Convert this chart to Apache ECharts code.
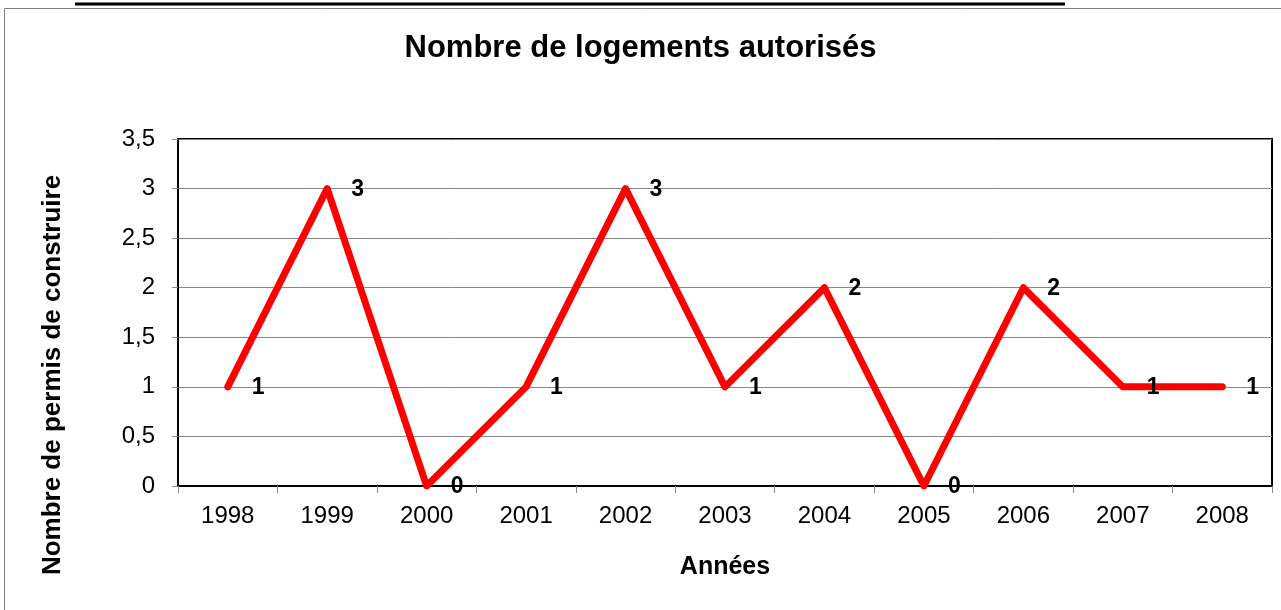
<!DOCTYPE html>
<html>
<head>
<meta charset="utf-8">
<script src="https://cdn.jsdelivr.net/npm/echarts@6/dist/echarts.min.js"></script>
<style>
  html, body { margin: 0; padding: 0; background: #fff; }
  #chart { width: 1281px; height: 610px; }
</style>
</head>
<body>
<div id="chart"></div>
<script>
// years on the x axis
const years = ['1998', '1999', '2000', '2001', '2002', '2003', '2004', '2005', '2006', '2007', '2008']
// authorised housing permits per year
const permits = [1, 3, 0, 1, 3, 1, 2, 0, 2, 1, 1]

const FONT = '"Liberation Sans", Arial, sans-serif'

const chart = echarts.init(document.getElementById('chart'))

chart.setOption({
  animation: false,
  backgroundColor: '#fff',
  textStyle: { fontFamily: FONT },
  title: {
    text: 'Nombre de logements autorisés',
    left: 'center',
    top: 28,
    textStyle: { fontSize: 31, fontWeight: 'bold', color: '#000', fontFamily: FONT }
  },
  graphic: [
    {
      type: 'rect',
      shape: { x: 4.5, y: 8.5, width: 1290, height: 620 },
      style: { fill: 'none', stroke: '#808080', lineWidth: 1 },
      silent: true
    },
    {
      // underline of the cut-off caption above the frame
      type: 'line',
      shape: { x1: 75, y1: 4, x2: 1065, y2: 4 },
      style: { stroke: '#000', lineWidth: 3 },
      silent: true
    },
    {
      // y axis title sits lower than the plot centre in the original
      type: 'text',
      x: 53,
      y: 375,
      rotation: Math.PI / 2,
      style: {
        text: 'Nombre de permis de construire',
        font: 'bold 26px "Liberation Sans", Arial, sans-serif',
        fill: '#000',
        align: 'center',
        verticalAlign: 'middle'
      },
      silent: true
    }
  ],
  grid: { left: 178, right: 9, top: 139, bottom: 124, show: true, borderColor: '#000', borderWidth: 2 },
  xAxis: {
    type: 'category',
    data: years,
    boundaryGap: true,
    name: 'Années',
    nameLocation: 'middle',
    nameGap: 69,
    nameTextStyle: { fontSize: 25, fontWeight: 'bold', color: '#000', fontFamily: FONT },
    axisLine: { lineStyle: { color: '#000', width: 2 } },
    axisTick: { show: true, alignWithLabel: false, length: 7, lineStyle: { color: '#888' } },
    axisLabel: { fontSize: 24, color: '#000', margin: 18, fontFamily: FONT }
  },
  yAxis: {
    type: 'value',
    min: 0,
    max: 3.5,
    interval: 0.5,
    axisLine: { show: true, lineStyle: { color: '#000', width: 2 } },
    axisTick: { show: true, length: 6, lineStyle: { color: '#888' } },
    axisLabel: {
      fontSize: 24,
      color: '#000',
      margin: 23,
      fontFamily: FONT,
      formatter: v => String(v).replace('.', ',')
    },
    splitLine: { show: true, lineStyle: { color: '#888', width: 1 } }
  },
  series: [
    {
      type: 'line',
      data: permits,
      symbol: 'circle',
      symbolSize: 4,
      showSymbol: true,
      itemStyle: { color: '#ff0000' },
      lineStyle: { color: '#ff0000', width: 7, cap: 'round', join: 'round' },
      label: {
        show: true,
        position: 'right',
        distance: 22,
        fontSize: 23,
        fontWeight: 'bold',
        color: '#000',
        fontFamily: FONT,
        offset: [0, 1]
      }
    }
  ]
})
</script>
</body>
</html>
